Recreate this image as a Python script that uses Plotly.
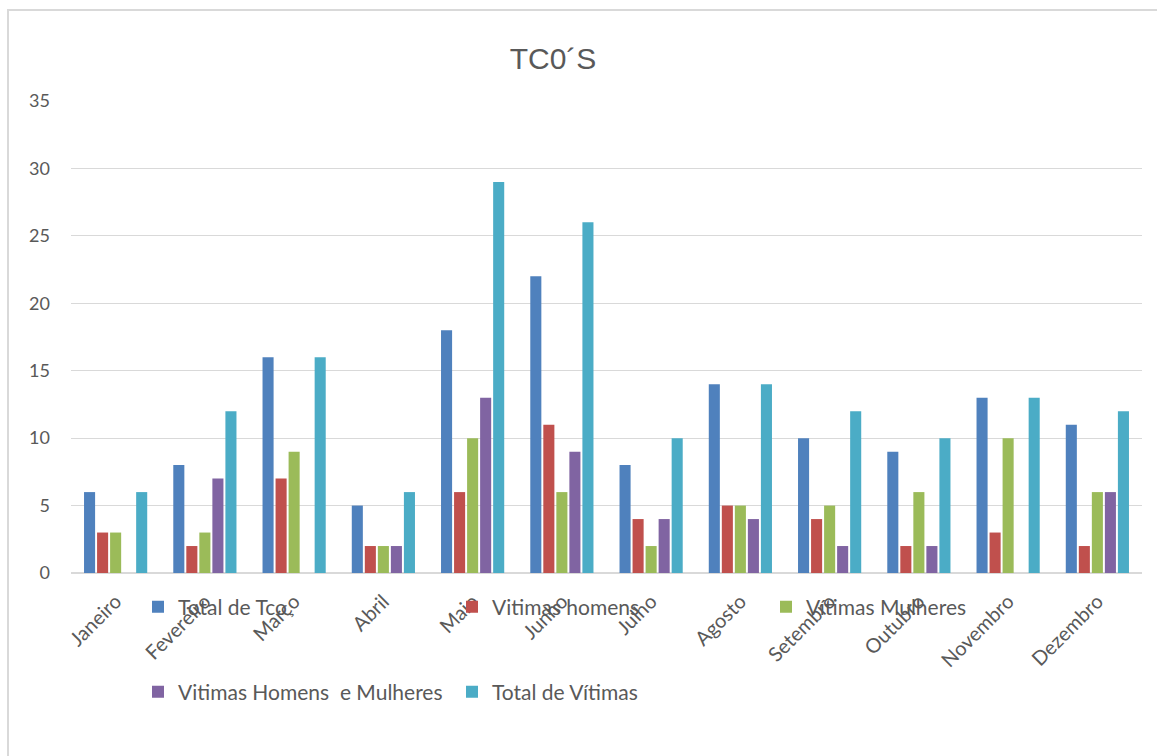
import plotly.graph_objects as go

months = ["Janeiro", "Fevereiro", "Março", "Abril", "Maio", "Junho", "Julho",
          "Agosto", "Setembro", "Outubro", "Novembro", "Dezembro"]
total_tco = [6, 8, 16, 5, 18, 22, 8, 14, 10, 9, 13, 11]
vit_homens = [3, 2, 7, 2, 6, 11, 4, 5, 4, 2, 3, 2]
vit_mulheres = [3, 3, 9, 2, 10, 6, 2, 5, 5, 6, 10, 6]
vit_hm = [0, 7, 0, 2, 13, 9, 4, 4, 2, 2, 0, 6]
total_vitimas = [6, 12, 16, 6, 29, 26, 10, 14, 12, 10, 13, 12]

series = [
    ("Total de Tco", total_tco, "#4F81BD", "legend"),
    ("Vitimas homens", vit_homens, "#C0504D", "legend"),
    ("Vítimas Mulheres", vit_mulheres, "#9BBB59", "legend"),
    ("Vitimas Homens  e Mulheres", vit_hm, "#8064A2", "legend2"),
    ("Total de Vítimas", total_vitimas, "#4BACC6", "legend2"),
]

fig = go.Figure()
for name, vals, col, lg in series:
    fig.add_trace(go.Bar(x=months, y=vals, name=name, marker_color=col,
                         marker_line_width=0, legend=lg))

W, H = 1157, 756
L, R, T, B = 71, 15, 101, 183
pw, ph = W - L - R, H - T - B

def px(x):
    return (x - L) / pw

def py(y):
    return (H - B - y) / ph

font_main = "Lato, 'Open Sans', sans-serif"
gray = "#595959"

legend_common = dict(orientation="h", xanchor="left", yanchor="middle",
                     entrywidth=269, entrywidthmode="pixels",
                     font=dict(family=font_main, size=21, color=gray),
                     bgcolor="rgba(0,0,0,0)", itemclick=False,
                     tracegroupgap=0, traceorder="normal")

fig.update_layout(
    width=W, height=H,
    margin=dict(l=L, r=R, t=T, b=B, autoexpand=False),
    paper_bgcolor="white", plot_bgcolor="white",
    title=dict(text="TC0´S", x=0.478, xanchor="center", y=1 - 58 / H, yanchor="middle",
               font=dict(family="Liberation Sans, Arial, sans-serif", size=30, color=gray)),
    barmode="group", bargap=0.27, bargroupgap=0.15,
    showlegend=True,
    legend=dict(x=px(138), y=py(607), **legend_common),
    legend2=dict(x=px(138), y=py(692), **legend_common),
    xaxis=dict(tickangle=-45, tickfont=dict(family=font_main, size=20, color=gray),
               showgrid=False, showline=False, ticks="", fixedrange=True,
               ticklabelstandoff=12),
    yaxis=dict(range=[0, 35], dtick=5, showgrid=True, gridcolor="#d9d9d9", gridwidth=1,
               zeroline=True, zerolinecolor="#d9d9d9", zerolinewidth=2,
               tickfont=dict(family=font_main, size=18, color=gray),
               ticklabelstandoff=20, ticks="", showline=False),
    shapes=[dict(type="rect", xref="paper", yref="paper",
                 x0=px(8), x1=px(1200), y0=py(10), y1=py(800),
                 line=dict(color="#d9d9d9", width=2), fillcolor="rgba(0,0,0,0)", layer="below")],
)

fig.write_html("out.html")
